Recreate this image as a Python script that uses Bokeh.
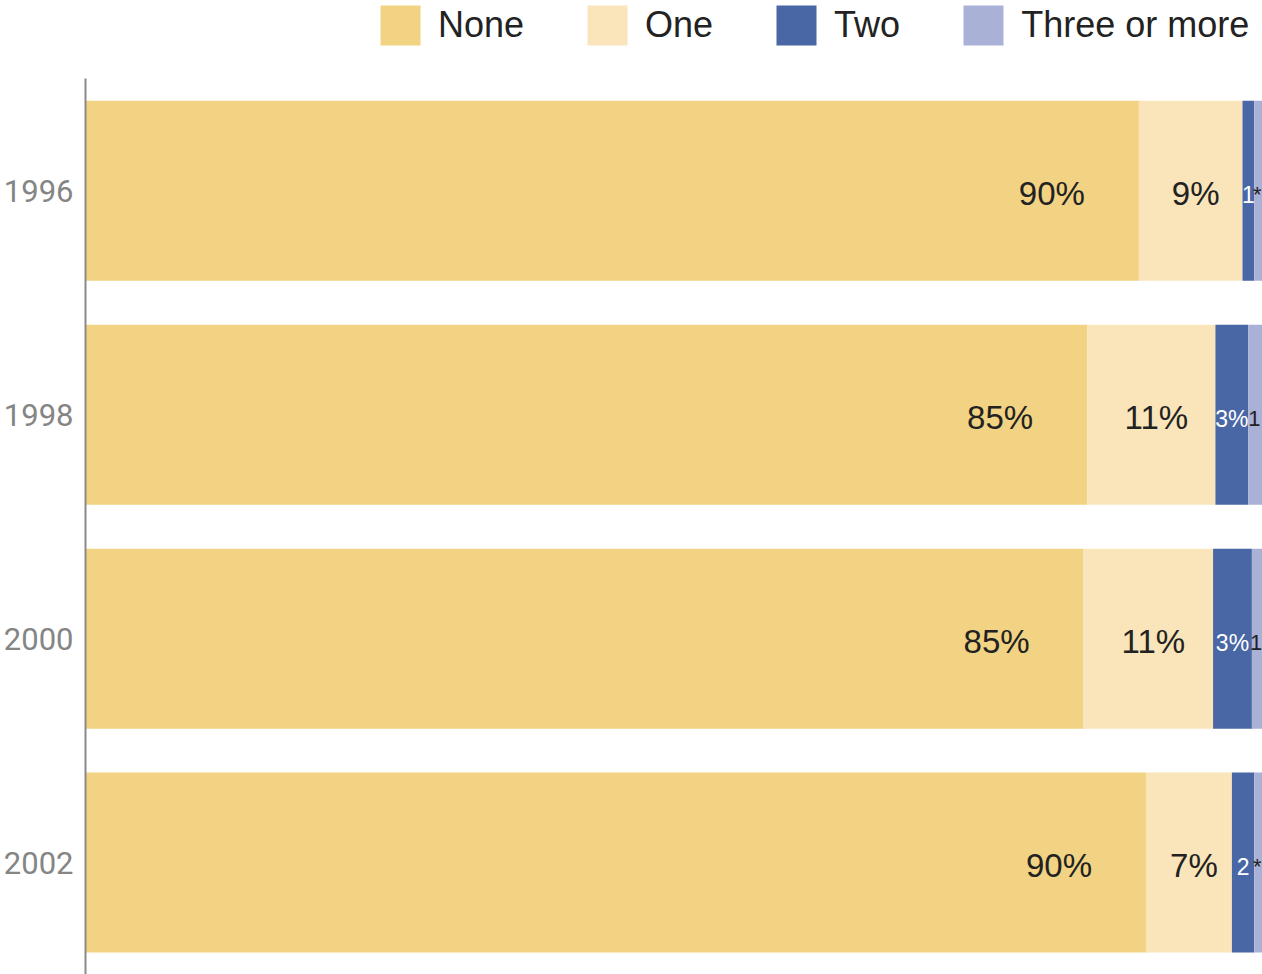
import numpy as np
import pandas as pd
from bokeh.plotting import figure
from bokeh.models import (ColumnDataSource, Range1d, Legend, LegendItem,
                          FixedTicker)
from bokeh.core.properties import value
from bokeh.embed import file_html
from bokeh.resources import INLINE

# ---- data ----
years = ["1996", "1998", "2000", "2002"]
none_pct = [89.5, 85.1, 84.8, 90.1]
one_pct = [8.8, 10.9, 11.0, 7.3]
two_pct = [1.0, 2.8, 3.3, 1.9]
three_pct = [0.7, 1.2, 0.9, 0.7]

none_lbl = ["90%", "85%", "85%", "90%"]
one_lbl = ["9%", "11%", "11%", "7%"]
two_lbl = ["1", "3%", "3%", "2"]
three_lbl = ["*", "1", "1", "*"]

series_names = ["None", "One", "Two", "Three or more"]
colors = ["#F2D383", "#F9E5B9", "#4A67A5", "#AAB1D6"]

# ---- build table ----
n = len(years)
ypos = [n - 1 - i for i in range(n)]  # first year on top
df = pd.DataFrame({"year": years, "ypos": ypos, "none": none_pct,
                   "one": one_pct, "two": two_pct, "three": three_pct,
                   "l_none": none_lbl, "l_one": one_lbl,
                   "l_two": two_lbl, "l_three": three_lbl})
cols = ["none", "one", "two", "three"]
cum = np.cumsum(df[cols].values, axis=1)
for i, c in enumerate(cols):
    df[c + "_right"] = cum[:, i]
    df[c + "_left"] = cum[:, i] - df[c].values
    df[c + "_mid"] = (df[c + "_left"] + df[c + "_right"]) / 2
src = ColumnDataSource(df)

W, H = 1262, 974
p = figure(width=W, height=H, output_backend="svg", toolbar_location=None,
           y_range=Range1d(-0.5, n - 1 + 0.85),
           x_range=Range1d(0, 100),
           min_border_left=84, min_border_right=0, min_border_top=0,
           min_border_bottom=0, outline_line_color=None, tools="")

renderers = []
for c, col in zip(cols, colors):
    r = p.hbar(y="ypos", left=c + "_left", right=c + "_right", height=0.804,
               source=src, fill_color=col, line_color=None)
    renderers.append(r)

label_font = value("Liberation Sans")
p.text(x="none_right", y="ypos", text="l_none", source=src, x_offset=-54,
       y_offset=3, text_align="right", text_baseline="middle",
       text_font=label_font, text_font_size="33px", text_color="#222222")
p.text(x="one_mid", y="ypos", text="l_one", source=src, x_offset=5,
       y_offset=3, text_align="center", text_baseline="middle",
       text_font=label_font, text_font_size="33px", text_color="#222222")
p.text(x="two_mid", y="ypos", text="l_two", source=src, x_offset=0,
       y_offset=4, text_align="center", text_baseline="middle",
       text_font=label_font, text_font_size="23px", text_color="#FFFFFF")
p.text(x="three_mid", y="ypos", text="l_three", source=src, x_offset=-1,
       y_offset=4, text_align="center", text_baseline="middle",
       text_font=label_font, text_font_size="22px", text_color="#222222")

# axes
p.xaxis.visible = False
p.xgrid.visible = False
p.ygrid.visible = False
yax = p.yaxis[0]
yax.ticker = FixedTicker(ticks=ypos)
yax.major_label_overrides = {yp: yr for yp, yr in zip(ypos, years)}
yax.bounds = (-0.5, n - 0.5)
yax.axis_line_color = "#8A8A8A"
yax.axis_line_width = 2
yax.major_tick_line_color = None
yax.minor_tick_line_color = None
yax.major_tick_in = 0
yax.major_tick_out = 0
yax.major_label_standoff = 12
yax.major_label_text_font = "Roboto"
yax.major_label_text_font_size = "31px"
yax.major_label_text_color = "#858585"

# legend (inside the top of the frame, above the axis line)
items = [LegendItem(label=s, renderers=[r]) for s, r in zip(series_names, renderers)]
legend = Legend(items=items, orientation="horizontal",
                location=(290, H - 50),
                glyph_width=50, glyph_height=50, label_standoff=13,
                spacing=58, padding=0, margin=0,
                border_line_color=None, background_fill_alpha=0,
                label_text_font="Liberation Sans", label_text_font_size="36px",
                label_text_color="#222222", label_height=50)
p.add_layout(legend, "center")

open("out.html", "w").write(file_html(p, INLINE))
